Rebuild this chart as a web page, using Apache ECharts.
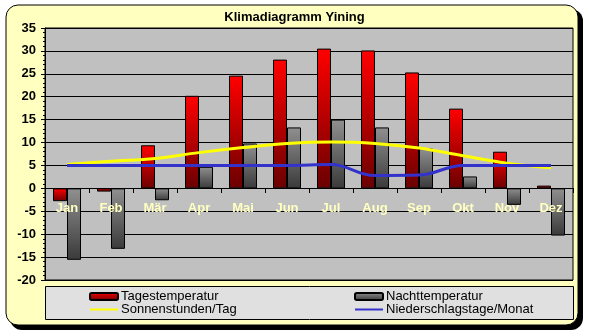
<!DOCTYPE html>
<html><head><meta charset="utf-8">
<script src="https://cdn.jsdelivr.net/npm/echarts@6/dist/echarts.min.js"></script>
<style>html,body{margin:0;padding:0;background:#fff}#c{width:589px;height:336px}</style>
</head><body><div id="c"></div>
<script>
const months = ['Jan','Feb','Mär','Apr','Mai','Jun','Jul','Aug','Sep','Okt','Nov','Dez'];
const tagesTemp = [-2.8,-0.7,9.4,20.2,24.6,28.1,30.5,30.1,25.3,17.4,8.0,0.6];
const nachtTemp = [-15.6,-13.2,-2.6,4.7,9.8,13.3,15.0,13.3,8.7,2.6,-3.6,-10.3];
const sonne = [5.2,5.9,6.5,7.8,8.9,9.8,10.1,9.8,8.8,7.1,5.5,4.5];
const regenTage = [5,5,5,5,5,5,5.2,2.8,2.9,5,5,5];
const names = ['Tagestemperatur','Nachttemperatur','Sonnenstunden/Tag','Niederschlagstage/Monat'];

const chart = echarts.init(document.getElementById('c'), null, {renderer:'canvas'});
const font = 'Arial, "Liberation Sans", sans-serif';
const redGrad = new echarts.graphic.LinearGradient(0,0,0,1,[{offset:0,color:'#FF0000'},{offset:1,color:'#6A0000'}]);
const grayGrad = new echarts.graphic.LinearGradient(0,0,0,1,[{offset:0,color:'#909090'},{offset:1,color:'#3A3A3A'}]);
const legendText = {fontFamily:font,fontSize:13,color:'#000',lineHeight:13,padding:[0,0,0,-2]};
chart.setOption({
  animation:false,
  backgroundColor:'#fff',
  title:{text:'Klimadiagramm Yining',left:'center',top:6,
    textStyle:{fontFamily:font,fontSize:13,fontWeight:'bold',color:'#000'}},
  graphic:[
    {type:'rect',z:-10,shape:{x:10,y:9,width:573,height:321,r:12},style:{fill:'#000'}},
    {type:'rect',z:-10,shape:{x:6,y:5,width:572,height:320,r:12},style:{fill:'#FFFFC0',stroke:'#000',lineWidth:1}},
    {type:'rect',z:-9,shape:{x:45.5,y:286.5,width:528,height:33},style:{fill:'#E0E0E0',stroke:'#000',lineWidth:1}}
  ],
  legend:[
    {orient:'vertical',left:89,top:290,itemWidth:28,itemHeight:7,itemGap:0,padding:0,
     data:[names[0],{name:names[2],itemStyle:{opacity:0}}],textStyle:legendText},
    {orient:'vertical',left:354,top:290,itemWidth:28,itemHeight:7,itemGap:0,padding:0,
     data:[names[1],{name:names[3],itemStyle:{opacity:0}}],textStyle:legendText}
  ],
  grid:{left:45,right:16,top:28,bottom:56,show:true,backgroundColor:'#C0C0C0',borderColor:'#000',borderWidth:1,containLabel:false,outerBoundsMode:'none'},
  xAxis:{type:'category',data:months,z:10,offset:-92,
    axisLine:{onZero:false,lineStyle:{color:'#000',width:1}},
    axisTick:{show:true,alignWithLabel:false,length:5,lineStyle:{color:'#000'}},
    axisLabel:{margin:14,fontFamily:font,fontSize:13,fontWeight:'bold',color:'#FFFFC0'}},
  yAxis:{type:'value',min:-20,max:35,interval:5,
    axisLine:{show:true,lineStyle:{color:'#000'}},
    axisTick:{show:true,length:4,lineStyle:{color:'#000'}},
    minorTick:{show:true,splitNumber:5,length:2,lineStyle:{color:'#000'}},
    splitLine:{show:true,lineStyle:{color:'#000',width:1}},
    axisLabel:{margin:9,fontFamily:font,fontSize:13,fontWeight:'bold',color:'#000'}},
  series:[
    {name:names[0],type:'bar',data:tagesTemp,barWidth:14,barGap:'0%',
     itemStyle:{color:redGrad,borderColor:'#000',borderWidth:1}},
    {name:names[1],type:'bar',data:nachtTemp,barWidth:14,barGap:'0%',
     itemStyle:{color:grayGrad,borderColor:'#000',borderWidth:1}},
    {name:names[2],type:'line',data:sonne,smooth:0.4,symbol:'none',z:5,
     lineStyle:{color:'#FFFF00',width:3},itemStyle:{color:'#FFFF00'}},
    {name:names[3],type:'line',data:regenTage,smooth:0.4,symbol:'none',z:5,
     lineStyle:{color:'#3333CC',width:3},itemStyle:{color:'#3333CC'}}
  ]
});
</script></body></html>
